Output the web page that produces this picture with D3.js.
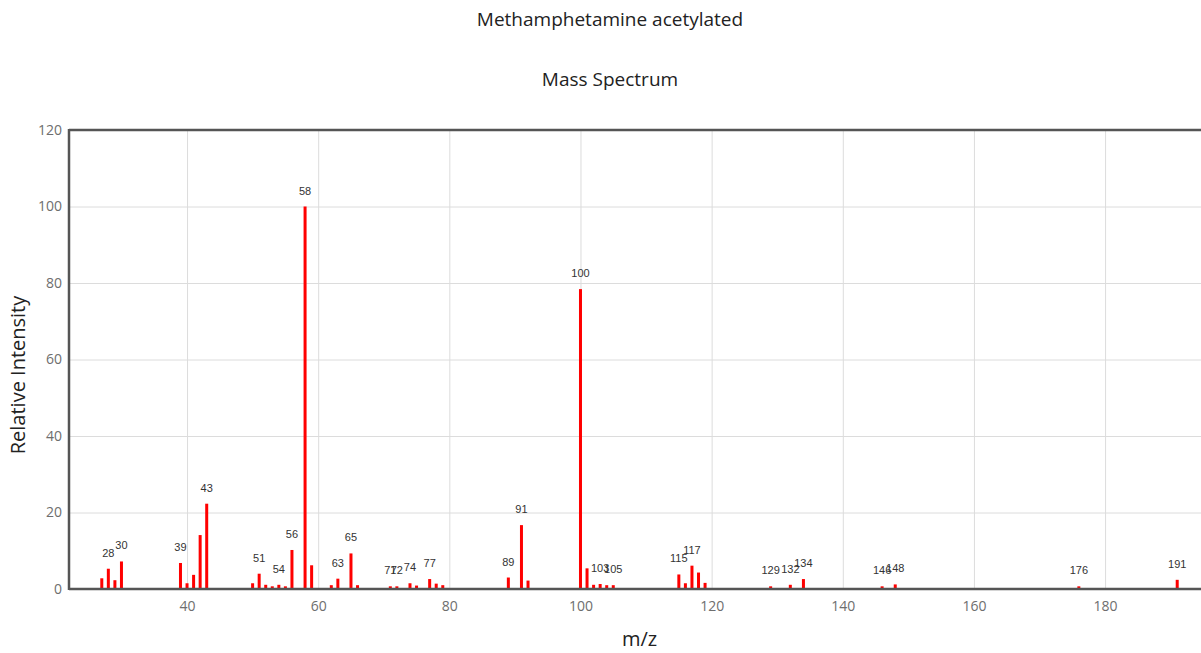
<!DOCTYPE html>
<html>
<head>
    <meta charset="UTF-8">
    <title>Mass Spectrum</title>
    <script src="https://d3js.org/d3.v7.min.js"></script>
    <style type="text/css">
        body { margin: 0; background: #fff; overflow: hidden; }
        .grid line { stroke: #dcdcdc; stroke-width: 1; }
        .grid path { display: none; }
        .axis path, .axis line { display: none; }
        .axis text { fill: #6e6e6e; font-family: "Open Sans", sans-serif; font-size: 14px; }
    </style>
</head>
<body>
<script type="text/javascript">
    // peaks
    var mz = [27, 28, 29, 30, 39, 40, 41, 42, 43, 50, 51, 52, 53, 54, 55, 56, 58, 59, 62, 63, 65, 66,
        71, 72, 74, 75, 77, 78, 79, 89, 91, 92, 100, 101, 102, 103, 104, 105,
        115, 116, 117, 118, 119, 129, 132, 134, 146, 148, 176, 191];
    var intensity = [2.8, 5.3, 2.3, 7.2, 6.8, 1.5, 3.7, 14.1, 22.3, 1.5, 4.0, 1.1, 0.7, 1.1, 0.7, 10.2, 100, 6.2, 1.0, 2.7, 9.3, 1.0,
        0.7, 0.7, 1.5, 0.9, 2.6, 1.4, 1.0, 3.0, 16.7, 2.2, 78.4, 5.4, 1.1, 1.3, 1.0, 1.0,
        3.8, 1.5, 6.1, 4.3, 1.6, 0.7, 1.1, 2.6, 0.7, 1.2, 0.7, 2.4];
    // peaks that carry a label
    var labelled = [28, 30, 39, 43, 51, 54, 56, 58, 63, 65, 71, 72, 74, 77, 89, 91, 100, 103, 105,
        115, 117, 129, 132, 134, 146, 148, 176, 191];
    var xTicks = [40, 60, 80, 100, 120, 140, 160, 180];
    var yTicks = [0, 20, 40, 60, 80, 100, 120];

    var data = mz.map(function (m, i) { return { mz: m, y: intensity[i] }; });

    var margin = { top: 130, right: 10, bottom: 64, left: 69 },
        totalW = 1220, totalH = 653,
        width = totalW - margin.left - margin.right,
        height = totalH - margin.top - margin.bottom;

    var x = d3.scaleLinear().domain([22, 196]).range([0, width]);
    var y = d3.scaleLinear().domain([0, 120]).range([height, 0]);

    var svg = d3.select("body").append("svg")
        .attr("width", totalW)
        .attr("height", totalH);

    // titles
    svg.append("text")
        .attr("x", totalW / 2).attr("y", 26)
        .attr("text-anchor", "middle")
        .style("font-family", "'Open Sans', sans-serif")
        .style("font-size", "19px")
        .style("fill", "#222")
        .text("Methamphetamine acetylated");

    svg.append("text")
        .attr("x", totalW / 2).attr("y", 86)
        .attr("text-anchor", "middle")
        .style("font-family", "'Open Sans', sans-serif")
        .style("font-size", "19px")
        .style("fill", "#222")
        .text("Mass Spectrum");

    var g = svg.append("g")
        .attr("transform", "translate(" + margin.left + "," + margin.top + ")");

    // gridlines
    g.append("g").attr("class", "grid")
        .attr("transform", "translate(0," + height + ")")
        .call(d3.axisBottom(x).tickValues(xTicks).tickSize(-height).tickFormat(""));
    g.append("g").attr("class", "grid")
        .call(d3.axisLeft(y).tickValues(yTicks).tickSize(-width).tickFormat(""));

    // tick labels
    g.append("g").attr("class", "axis")
        .attr("transform", "translate(0," + height + ")")
        .call(d3.axisBottom(x).tickValues(xTicks).tickSize(0).tickPadding(12));
    g.append("g").attr("class", "axis")
        .call(d3.axisLeft(y).tickValues(yTicks).tickSize(0).tickPadding(7));

    // bars
    g.selectAll(".bar").data(data).enter().append("rect")
        .attr("class", "bar")
        .attr("x", function (d) { return x(d.mz) - 1.5; })
        .attr("width", 3)
        .attr("y", function (d) { return y(d.y); })
        .attr("height", function (d) { return height - y(d.y); })
        .attr("fill", "#ff0000");

    // peak labels
    g.selectAll(".peak").data(data.filter(function (d) { return labelled.indexOf(d.mz) >= 0; }))
        .enter().append("text")
        .attr("class", "peak")
        .attr("x", function (d) { return x(d.mz); })
        .attr("y", function (d) { return y(d.y) - 12; })
        .attr("text-anchor", "middle")
        .style("font-family", "'Liberation Sans', Arial, sans-serif")
        .style("font-size", "11px")
        .style("fill", "#333")
        .text(function (d) { return d.mz; });

    // frame
    g.append("line").attr("x1", 0).attr("x2", width).attr("y1", 0).attr("y2", 0)
        .attr("stroke", "#555").attr("stroke-width", 2.5);
    g.append("line").attr("x1", 0).attr("x2", width).attr("y1", height).attr("y2", height)
        .attr("stroke", "#555").attr("stroke-width", 2.5);
    g.append("line").attr("x1", 0).attr("x2", 0).attr("y1", -1).attr("y2", height + 1)
        .attr("stroke", "#555").attr("stroke-width", 2.5);

    // axis titles
    svg.append("text")
        .attr("x", margin.left + width / 2).attr("y", 646)
        .attr("text-anchor", "middle")
        .style("font-family", "'Open Sans', sans-serif")
        .style("font-size", "20px")
        .style("fill", "#222")
        .text("m/z");

    svg.append("text")
        .attr("transform", "translate(25,375) rotate(-90)")
        .attr("text-anchor", "middle")
        .style("font-family", "'Open Sans', sans-serif")
        .style("font-size", "20px")
        .style("fill", "#222")
        .text("Relative Intensity");
</script>
</body>
</html>
